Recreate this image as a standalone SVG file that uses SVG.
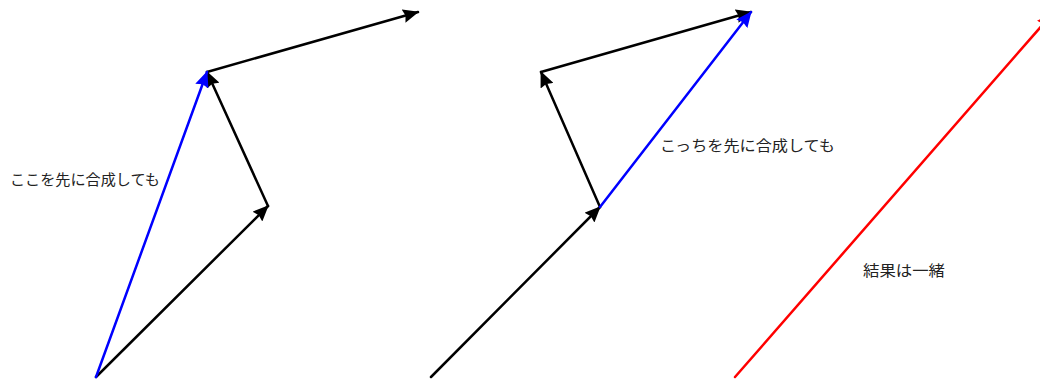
<svg xmlns="http://www.w3.org/2000/svg" width="1040" height="380" viewBox="0 0 1040 380">
<style>
.v{fill:none;stroke-width:2.5;stroke-linecap:round}
.k{stroke:#000}
.b{stroke:#0000ff}
.r{stroke:#ff0000}
.t{font-family:"Noto Sans CJK JP","Noto Sans CJK SC",sans-serif;font-size:15px;fill:#222}
</style>
<defs>
<marker id="ak" viewBox="0 0 16 14" refX="15" refY="7" markerWidth="16" markerHeight="14" markerUnits="userSpaceOnUse" orient="auto"><path d="M0,0 L16,7 L0,14 L2,7 Z" fill="#000"/></marker>
<marker id="ab" viewBox="0 0 16 14" refX="15" refY="7" markerWidth="16" markerHeight="14" markerUnits="userSpaceOnUse" orient="auto"><path d="M0,0 L16,7 L0,14 L2,7 Z" fill="#0000ff"/></marker>
<marker id="ar" viewBox="0 0 16 14" refX="15" refY="7" markerWidth="16" markerHeight="14" markerUnits="userSpaceOnUse" orient="auto"><path d="M0,0 L16,7 L0,14 L2,7 Z" fill="#ff0000"/></marker>
</defs>
<g id="connectors">
<line class="v k" x1="96" y1="377" x2="268" y2="206" marker-end="url(#ak)"/>
<line class="v k" x1="268" y1="206" x2="207" y2="72" marker-end="url(#ak)"/>
<line class="v k" x1="207" y1="72" x2="418" y2="12" marker-end="url(#ak)"/>
<line class="v b" x1="96" y1="377" x2="207" y2="72" marker-end="url(#ab)"/>
<line class="v k" x1="431" y1="377" x2="600" y2="207" marker-end="url(#ak)"/>
<line class="v k" x1="600" y1="207" x2="541" y2="72" marker-end="url(#ak)"/>
<line class="v k" x1="541" y1="72" x2="751" y2="12" marker-end="url(#ak)"/>
<line class="v b" x1="600" y1="207" x2="751" y2="12" marker-end="url(#ab)"/>
<line class="v r" x1="735" y1="377" x2="1052" y2="14" marker-end="url(#ar)"/>
</g>
<g id="label1"><text class="t" x="10" y="185" textLength="150" lengthAdjust="spacingAndGlyphs">ここを先に合成しても</text></g>
<g id="label2"><text class="t" x="660" y="151" textLength="175" lengthAdjust="spacingAndGlyphs">こっちを先に合成しても</text></g>
<g id="label3"><text class="t" x="863" y="276" textLength="82" lengthAdjust="spacingAndGlyphs">結果は一緒</text></g>
</svg>
